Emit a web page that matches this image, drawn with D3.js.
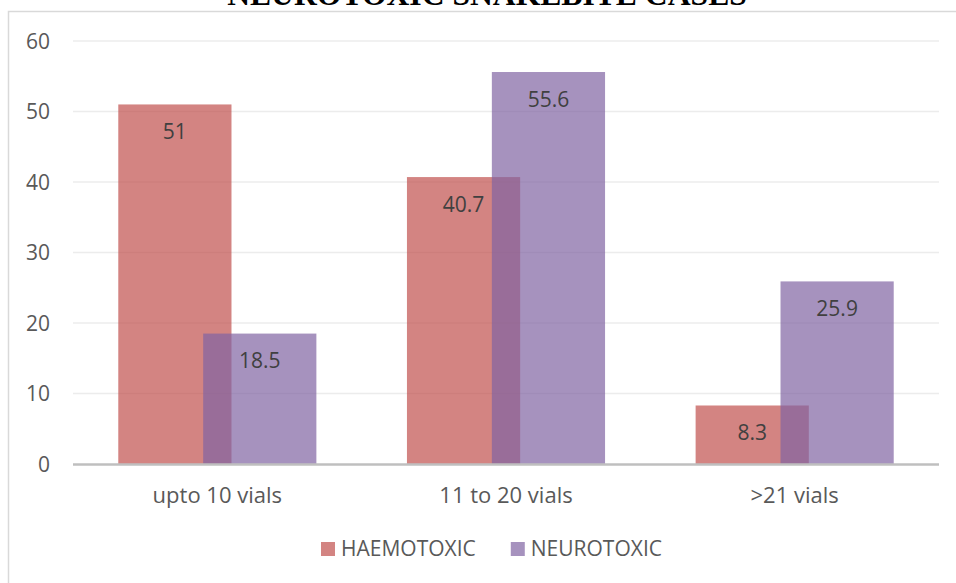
<!DOCTYPE html>
<html>
<head>
<meta charset="utf-8">
<script src="https://cdn.jsdelivr.net/npm/d3@7"></script>
<style>
  html, body { margin: 0; padding: 0; background: #fff; }
  svg { display: block; }
</style>
</head>
<body>
<svg id="chart" width="956" height="583"></svg>
<script>
// Antivenom vial usage, % of cases per group
const categories = ["upto 10 vials", "11 to 20 vials", ">21 vials"];
const haemotoxic = [51, 40.7, 8.3];
const neurotoxic = [18.5, 55.6, 25.9];
const seriesNames = ["HAEMOTOXIC", "NEUROTOXIC"];
const seriesColors = ["#C0504D", "#8064A2"];
const yTicks = [0, 10, 20, 30, 40, 50, 60];
const title = "NEUROTOXIC SNAKEBITE CASES";

const W = 956, H = 583;
const svg = d3.select("#chart");
const font = "'Open Sans', 'Noto Sans', sans-serif";
const fs = 21;

svg.append("rect").attr("width", W).attr("height", H).attr("fill", "#fff");

// chart area border (continues past the right and bottom edges)
svg.append("rect")
  .attr("x", 8.5).attr("y", 11.5)
  .attr("width", 1000).attr("height", 1000)
  .attr("fill", "none").attr("stroke", "#d9d9d9").attr("stroke-width", 1.5);

// title, mostly above the visible area
const t = svg.append("text")
  .attr("x", 487).attr("y", 5)
  .attr("text-anchor", "middle")
  .attr("font-family", "'Liberation Serif', 'Times New Roman', serif")
  .attr("font-weight", "bold")
  .attr("font-size", 24)
  .attr("fill", "#000")
  .text(title);
const tl = t.node().getComputedTextLength();
t.attr("font-size", 24 * 520 / tl);

const plot = { left: 73, right: 939, top: 41, bottom: 464 };

const x = d3.scaleBand().domain(categories).range([plot.left, plot.right]).padding(0);
const y = d3.scaleLinear().domain([0, 60]).range([plot.bottom, plot.top]);

// gridlines
svg.append("g").selectAll("line")
  .data(yTicks.filter(d => d > 0))
  .join("line")
  .attr("x1", plot.left).attr("x2", plot.right)
  .attr("y1", d => y(d)).attr("y2", d => y(d))
  .attr("stroke", "#ececec").attr("stroke-width", 1.5);

// y tick labels
svg.append("g").selectAll("text")
  .data(yTicks)
  .join("text")
  .attr("x", 50).attr("y", d => y(d))
  .attr("dy", "0.36em")
  .attr("text-anchor", "end")
  .attr("font-family", font).attr("font-size", fs)
  .attr("fill", "#595959")
  .text(d => d);

// bar geometry: overlap 25% of bar width, gap 80% of bar width
const bw = x.bandwidth();
const barW = bw / 2.55;
const step = barW * 0.75;
const groupW = barW + step;

const series = [haemotoxic, neurotoxic];
series.forEach((vals, si) => {
  const g = svg.append("g");
  g.selectAll("rect")
    .data(categories.map((c, i) => ({ c, v: vals[i] })))
    .join("rect")
    .attr("x", d => x(d.c) + bw / 2 - groupW / 2 + si * step)
    .attr("y", d => y(d.v))
    .attr("width", barW)
    .attr("height", d => y(0) - y(d.v))
    .attr("fill", seriesColors[si])
    .attr("fill-opacity", 0.7);
});

// category axis line
svg.append("line")
  .attr("x1", plot.left).attr("x2", plot.right)
  .attr("y1", plot.bottom + 0.5).attr("y2", plot.bottom + 0.5)
  .attr("stroke", "#bfbfbf").attr("stroke-width", 2.5);

// data labels, inside the top of each bar
series.forEach((vals, si) => {
  svg.append("g").selectAll("text")
    .data(categories.map((c, i) => ({ c, v: vals[i] })))
    .join("text")
    .attr("x", d => x(d.c) + bw / 2 - groupW / 2 + si * step + barW / 2)
    .attr("y", d => y(d.v) + 27)
    .attr("dy", "0.36em")
    .attr("text-anchor", "middle")
    .attr("font-family", font).attr("font-size", fs)
    .attr("fill", "#404040")
    .text(d => d.v);
});

// category labels
svg.append("g").selectAll("text")
  .data(categories)
  .join("text")
  .attr("x", d => x(d) + bw / 2)
  .attr("y", 503)
  .attr("text-anchor", "middle")
  .attr("font-family", font).attr("font-size", fs + 1)
  .attr("fill", "#595959")
  .text(d => d);

// legend
const legend = svg.append("g");
let lx = 321;
seriesNames.forEach((name, i) => {
  legend.append("rect")
    .attr("x", lx).attr("y", 542)
    .attr("width", 14).attr("height", 14)
    .attr("fill", seriesColors[i]).attr("fill-opacity", 0.7);
  const tx = legend.append("text")
    .attr("x", lx + 20).attr("y", 556)
    .attr("font-family", font).attr("font-size", fs)
    .attr("fill", "#595959")
    .text(name);
  lx += 20 + tx.node().getComputedTextLength() + 35;
});
</script>
</body>
</html>
